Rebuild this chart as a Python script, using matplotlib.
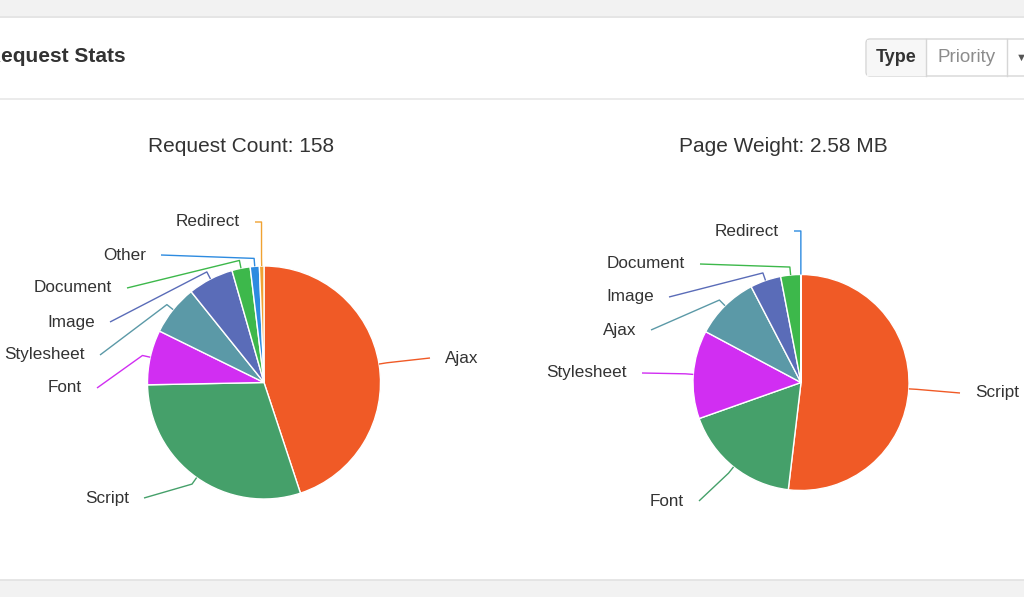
import matplotlib

matplotlib.use("Agg")

import matplotlib.pyplot as plt
import numpy as np
from matplotlib.patches import FancyBboxPatch, Rectangle

W, H = 1024, 597

# Request Count pie (number of requests by type, total 158)
count_labels = ["Ajax", "Script", "Font", "Stylesheet", "Image", "Document", "Other", "Redirect"]
count_values = [71, 47, 12, 11, 10, 4, 2, 1]

# Page Weight pie (MB by type, total 2.58 MB)
weight_labels = ["Script", "Font", "Stylesheet", "Ajax", "Image", "Document", "Redirect"]
weight_values = [1.339, 0.457, 0.341, 0.247, 0.119, 0.077, 0.001]

slice_colors = ["#f05a26", "#45a06a", "#d12ef2", "#5b99a7", "#5a6cb8", "#3db84b", "#2d8be0", "#f0a232"]

# layout (pixels from top-left): pie centre / radius, label text anchors
count_pie = dict(cx=264, cy=382.5, r=116.5)
weight_pie = dict(cx=801, cy=382.5, r=108)
count_text_pos = [(445, 358), (129, 498), (82, 388), (85, 355), (95, 322), (112, 288), (146, 255), (240, 222)]
weight_text_pos = [(975, 393), (684, 501), (627, 373), (636, 330), (654, 297), (685, 264), (779, 231)]

TEXT = "#333333"
FONT = ["Liberation Sans", "DejaVu Sans"]


def Y(py):
    return H - py


def draw_pie(ax, values, labels, pie, text_pos):
    colors = slice_colors[: len(values)]
    wedges, _ = ax.pie(
        values,
        colors=colors,
        startangle=90,
        counterclock=False,
        center=(pie["cx"], Y(pie["cy"])),
        radius=pie["r"],
        wedgeprops=dict(edgecolor="white", linewidth=1.0),
    )
    cx, cy, r = pie["cx"], Y(pie["cy"]), pie["r"]
    for wedge, label, color, (tx, ty) in zip(wedges, labels, colors, text_pos):
        mid = np.deg2rad((wedge.theta1 + wedge.theta2) / 2)
        ex, ey = cx + r * np.cos(mid), cy + r * np.sin(mid)
        bx, by = cx + (r + 8) * np.cos(mid), cy + (r + 8) * np.sin(mid)
        right_side = tx > cx
        lx = tx - 15 if right_side else tx + 15
        pts_x, pts_y = [lx], [Y(ty)]
        if abs(Y(ty) - by) > 2.5 * abs(bx - lx):
            # steep connector: short horizontal run, then straight down to the slice
            pts_x.append(bx)
            pts_y.append(Y(ty))
        pts_x += [bx, ex]
        pts_y += [by, ey]
        ax.plot(pts_x, pts_y, color=color, linewidth=1.0, solid_capstyle="butt", zorder=3)
        ax.text(tx, Y(ty), label, ha="left" if right_side else "right", va="center",
                fontsize=12.3, color=TEXT, family=FONT)


fig = plt.figure(figsize=(W / 100, H / 100), dpi=100)
ax = fig.add_axes([0, 0, 1, 1])

# page chrome
ax.add_patch(Rectangle((0, Y(16)), W, 16, facecolor="#f2f2f2", edgecolor="none", zorder=0))
ax.plot([0, W], [Y(16.5), Y(16.5)], color="#e0e0e0", linewidth=1.2, zorder=1)
ax.plot([0, W], [Y(99), Y(99)], color="#e8e8e8", linewidth=1.2, zorder=1)
ax.add_patch(Rectangle((0, 0), W, H - 580, facecolor="#f2f2f2", edgecolor="none", zorder=0))
ax.plot([0, W], [Y(580), Y(580)], color="#e2e2e2", linewidth=1.2, zorder=1)

ax.text(-14, Y(57), "Request Stats", ha="left", va="center", fontsize=15,
        fontweight="bold", color=TEXT, family=FONT)

# Type / Priority toggle
ax.add_patch(FancyBboxPatch((866, Y(76)), 180, 37, boxstyle="round,pad=0,rounding_size=4",
                            facecolor="white", edgecolor="#d6d6d6", linewidth=1.0, zorder=2))
ax.add_patch(Rectangle((867, Y(75.5)), 59, 36, facecolor="#f7f7f7", edgecolor="none", zorder=2))
for x in (926, 1007):
    ax.plot([x, x], [Y(39), Y(76)], color="#d6d6d6", linewidth=1.0, zorder=3)
ax.text(896, Y(58), "Type", ha="center", va="center", fontsize=13, fontweight="bold",
        color=TEXT, family=FONT, zorder=4)
ax.text(967, Y(58), "Priority", ha="center", va="center", fontsize=13.5,
        color="#8c8c8c", family=FONT, zorder=4)
ax.text(1016, Y(58), "\u25bc", ha="left", va="center", fontsize=8,
        color="#555555", family=FONT, zorder=4)

# titles
ax.text(241, Y(147), "Request Count: 158", ha="center", va="center", fontsize=15,
        color=TEXT, family=FONT)
ax.text(783, Y(147), "Page Weight: 2.58 MB", ha="center", va="center", fontsize=15,
        color=TEXT, family=FONT)

draw_pie(ax, count_values, count_labels, count_pie, count_text_pos)
draw_pie(ax, weight_values, weight_labels, weight_pie, weight_text_pos)

ax.set_xlim(0, W)
ax.set_ylim(0, H)
ax.set_aspect("auto")
ax.axis("off")

fig.savefig("out.png", dpi=100, facecolor="white")
plt.close(fig)
